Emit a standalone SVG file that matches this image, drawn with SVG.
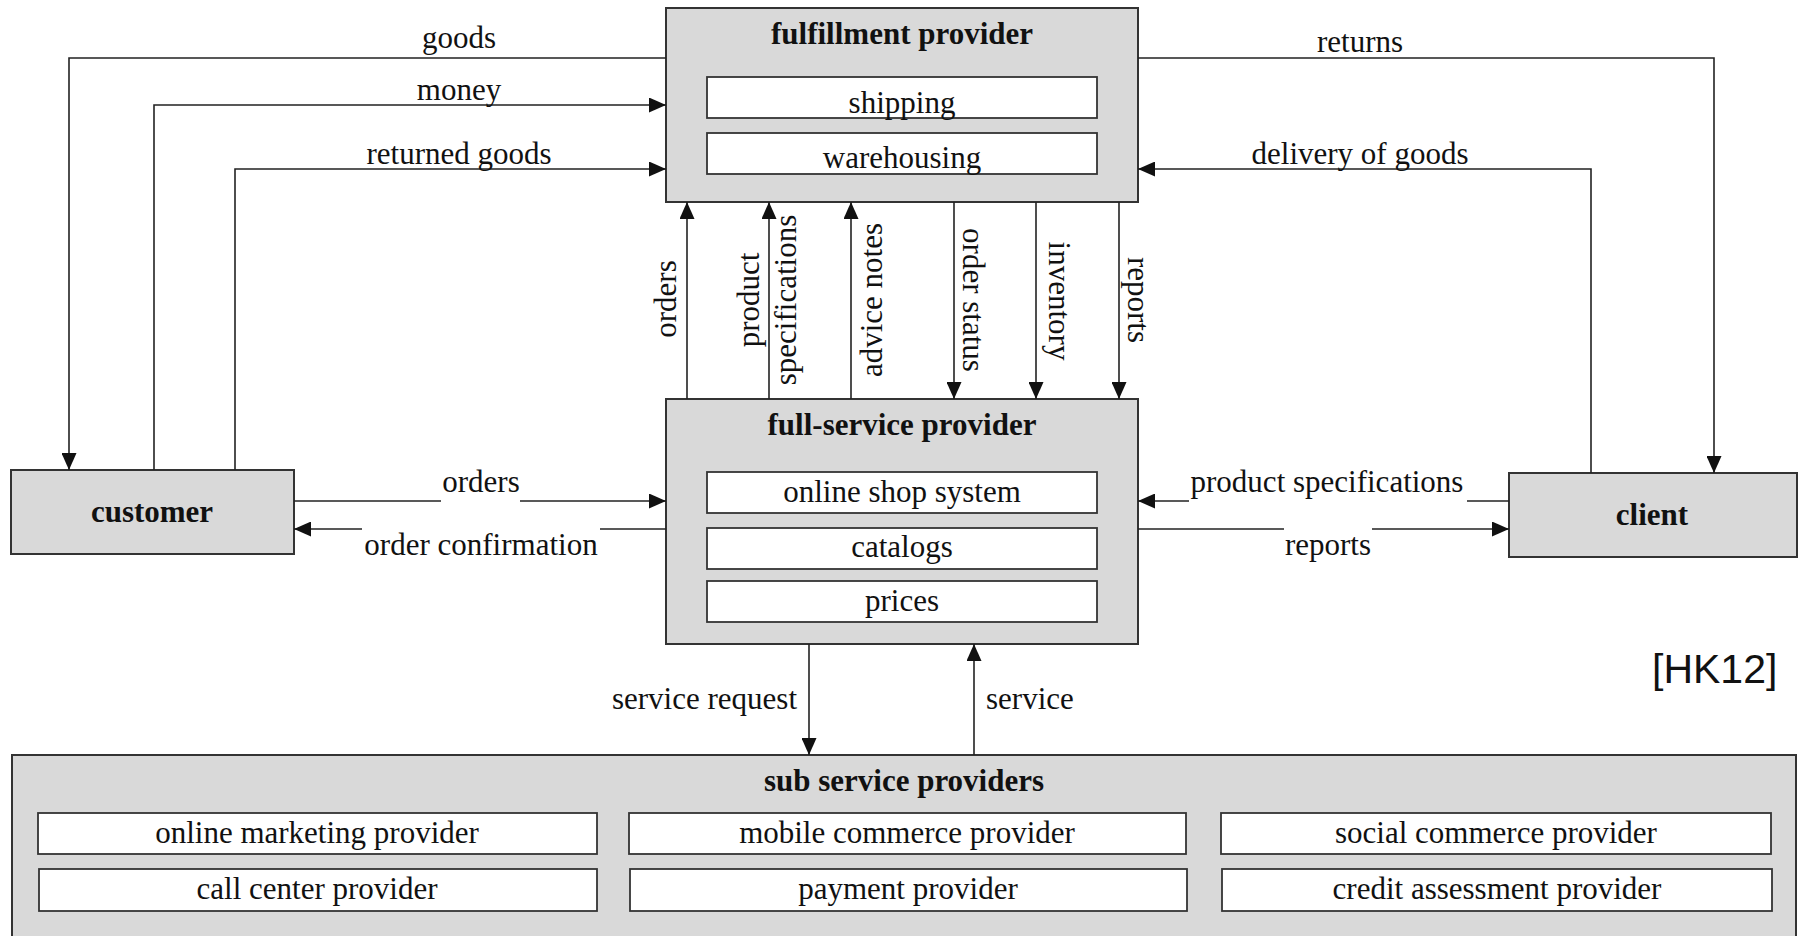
<svg xmlns="http://www.w3.org/2000/svg" width="1801" height="936" viewBox="0 0 1801 936">
<defs>
<marker id="arr" markerUnits="userSpaceOnUse" markerWidth="17" markerHeight="15" refX="17" refY="7.5" orient="auto">
<path d="M0,0 L17,7.5 L0,15 z" fill="#111"/>
</marker>
<style>
.box{fill:#d9d9d9;stroke:#333;stroke-width:2}
.in{fill:#fff;stroke:#333;stroke-width:1.8}
.t{font-family:"Liberation Serif","Times New Roman",serif;font-size:31px;fill:#111}
.b{font-weight:bold}
.m{text-anchor:middle}
.c{fill:none;stroke:#222;stroke-width:1.6}
.a{marker-end:url(#arr)}
</style>
</defs>
<rect width="1801" height="936" fill="#fff"/>

<g id="fulfillment-provider">
<rect class="box" x="666" y="8" width="472" height="194"/>
<text class="t b m" x="902" y="44">fulfillment provider</text>
<rect class="in" x="707" y="77" width="390" height="41"/>
<text class="t m" x="902" y="113">shipping</text>
<rect class="in" x="707" y="133" width="390" height="41"/>
<text class="t m" x="902" y="168">warehousing</text>
</g>

<g id="full-service-provider">
<rect class="box" x="666" y="399" width="472" height="245"/>
<text class="t b m" x="902" y="435">full-service provider</text>
<rect class="in" x="707" y="472" width="390" height="41"/>
<text class="t m" x="902" y="502">online shop system</text>
<rect class="in" x="707" y="528" width="390" height="41"/>
<text class="t m" x="902" y="557">catalogs</text>
<rect class="in" x="707" y="581" width="390" height="41"/>
<text class="t m" x="902" y="611">prices</text>
</g>

<g id="customer">
<rect class="box" x="11" y="470" width="283" height="84"/>
<text class="t b m" x="152" y="522">customer</text>
</g>

<g id="client">
<rect class="box" x="1509" y="473" width="288" height="84"/>
<text class="t b m" x="1652" y="525">client</text>
</g>

<g id="sub-service-providers">
<rect class="box" x="12" y="755" width="1784" height="190"/>
<text class="t b m" x="904" y="791">sub service providers</text>
<rect class="in" x="38" y="813" width="559" height="41"/>
<text class="t m" x="317" y="843">online marketing provider</text>
<rect class="in" x="629" y="813" width="557" height="41"/>
<text class="t m" x="907" y="843">mobile commerce provider</text>
<rect class="in" x="1221" y="813" width="550" height="41"/>
<text class="t m" x="1496" y="843">social commerce provider</text>
<rect class="in" x="39" y="869" width="558" height="42"/>
<text class="t m" x="317" y="899">call center provider</text>
<rect class="in" x="630" y="869" width="557" height="42"/>
<text class="t m" x="908" y="899">payment provider</text>
<rect class="in" x="1222" y="869" width="550" height="42"/>
<text class="t m" x="1497" y="899">credit assessment provider</text>
</g>

<g id="connectors">
<path class="c a" d="M666,58 H69 V470"/>
<path class="c a" d="M154,470 V105 H666"/>
<path class="c a" d="M235,470 V169 H666"/>
<path class="c a" d="M1138,58 H1714 V473"/>
<path class="c a" d="M1591,473 V169 H1138"/>
<path class="c a" d="M687,399 V202"/>
<path class="c a" d="M769,399 V202"/>
<path class="c a" d="M851,399 V202"/>
<path class="c a" d="M954,202 V399"/>
<path class="c a" d="M1036,202 V399"/>
<path class="c a" d="M1119,202 V399"/>
<path class="c" d="M294,501 H441"/>
<path class="c a" d="M520,501 H666"/>
<path class="c" d="M666,529 H600"/>
<path class="c a" d="M362,529 H294"/>
<path class="c" d="M1509,501 H1467"/>
<path class="c a" d="M1189,501 H1138"/>
<path class="c" d="M1138,529 H1284"/>
<path class="c a" d="M1372,529 H1509"/>
<path class="c a" d="M809,644 V755"/>
<path class="c a" d="M974,755 V644"/>
</g>

<g id="labels">
<text class="t m" x="459" y="48">goods</text>
<text class="t m" x="459" y="100">money</text>
<text class="t m" x="459" y="164">returned goods</text>
<text class="t m" x="1360" y="52">returns</text>
<text class="t m" x="1360" y="164">delivery of goods</text>
<text class="t m" transform="translate(676,299) rotate(-90)">orders</text>
<text class="t m" transform="translate(759,300) rotate(-90)">product</text>
<text class="t m" transform="translate(796,300) rotate(-90)">specifications</text>
<text class="t m" transform="translate(882,300) rotate(-90)">advice notes</text>
<text class="t m" transform="translate(963,300) rotate(90)">order status</text>
<text class="t m" transform="translate(1049,301) rotate(90)">inventory</text>
<text class="t m" transform="translate(1128,300) rotate(90)">reports</text>
<text class="t m" x="481" y="492">orders</text>
<text class="t m" x="481" y="555">order confirmation</text>
<text class="t m" x="1327" y="492">product specifications</text>
<text class="t m" x="1328" y="555">reports</text>
<text class="t" x="797" y="709" text-anchor="end">service request</text>
<text class="t" x="986" y="709">service</text>
<text x="1652" y="683" font-family="Liberation Sans, Arial, sans-serif" font-size="41" fill="#111">[HK12]</text>
</g>
</svg>
